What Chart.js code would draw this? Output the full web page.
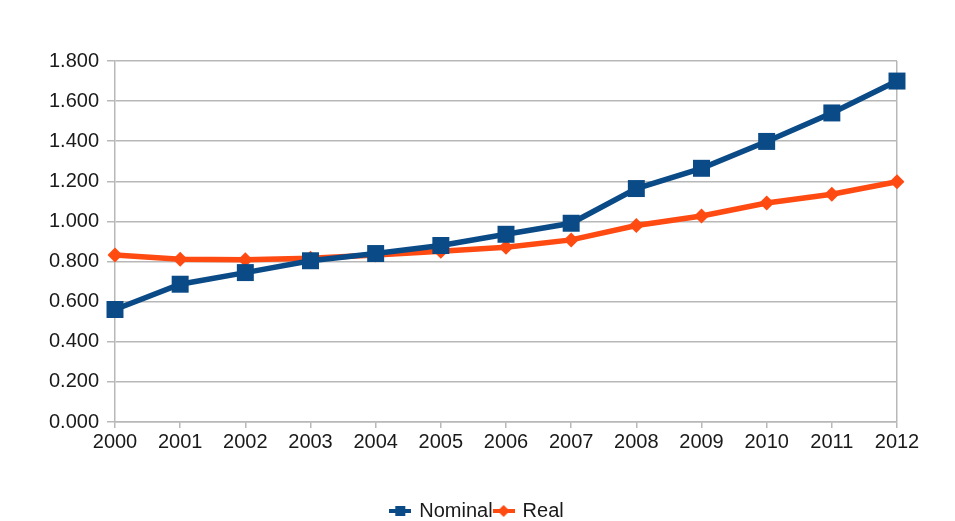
<!DOCTYPE html>
<html>
<head>
<meta charset="utf-8">
<script src="https://cdn.jsdelivr.net/npm/chart.js@4/dist/chart.umd.min.js"></script>
<style>
  html, body { margin: 0; padding: 0; background: #fff; }
  #wrap { width: 955px; height: 521px; }
</style>
</head>
<body>
<div id="wrap"><canvas id="grafico" width="955" height="521"></canvas></div>
<script>
// datos del grafico
var anios = ['2000', '2001', '2002', '2003', '2004', '2005', '2006', '2007', '2008', '2009', '2010', '2011', '2012'];
var nominal = [0.561, 0.687, 0.745, 0.804, 0.840, 0.880, 0.936, 0.991, 1.164, 1.265, 1.399, 1.541, 1.700];
var real = [0.833, 0.812, 0.809, 0.816, 0.833, 0.851, 0.871, 0.908, 0.980, 1.027, 1.092, 1.136, 1.198];
var nombresSeries = ['Nominal', 'Real'];
var ticksY = [0, 0.2, 0.4, 0.6, 0.8, 1.0, 1.2, 1.4, 1.6, 1.8];

var azul = '#0a4a86';
var naranja = '#ff4a12';
var gris = '#b8b8b8';
var fuente = 'Liberation Sans, Arial, sans-serif';

// simbolo de leyenda: linea con marcador
function simbolo(color, forma) {
    var c = document.createElement('canvas');
    c.width = 22; c.height = 14;
    var g = c.getContext('2d');
    g.strokeStyle = color;
    g.fillStyle = color;
    g.lineWidth = 4;
    g.beginPath(); g.moveTo(0, 7); g.lineTo(22, 7); g.stroke();
    g.beginPath();
    if (forma === 'rect') {
        g.rect(6, 2, 10, 10);
    } else {
        g.moveTo(11, 1); g.lineTo(17, 7); g.lineTo(11, 13); g.lineTo(5, 7); g.closePath();
    }
    g.fill();
    return c;
}

var ctx = document.getElementById('grafico').getContext('2d');

var datos = {
    labels: anios,
    datasets: [{
        label: nombresSeries[0],
        data: nominal,
        borderColor: azul,
        backgroundColor: azul,
        borderWidth: 5.5,
        pointStyle: 'rect',
        pointRadius: 12,
        pointBorderWidth: 0,
        tension: 0
    }, {
        label: nombresSeries[1],
        data: real,
        borderColor: naranja,
        backgroundColor: naranja,
        borderWidth: 5.5,
        pointStyle: 'rectRot',
        pointRadius: 7.5,
        pointBorderWidth: 0,
        tension: 0
    }]
};

var imagenes = [simbolo(azul, 'rect'), simbolo(naranja, 'rectRot')];

var configuracion = {
    type: 'line',
    data: datos,
    options: {
        responsive: false,
        animation: false,
        layout: { padding: { top: 61, right: 0, left: 0, bottom: -10 } },
        plugins: {
            tooltip: { enabled: false },
            legend: {
                position: 'bottom',
                labels: {
                    usePointStyle: true,
                    pointStyleWidth: 18,
                    padding: 2,
                    color: '#1a1a1a',
                    font: { family: fuente, size: 20 },
                    generateLabels: function(chart) {
                        return chart.data.datasets.map(function(ds, i) {
                            return {
                                text: ds.label,
                                pointStyle: imagenes[i],
                                fillStyle: ds.borderColor,
                                strokeStyle: ds.borderColor,
                                lineWidth: 0,
                                fontColor: '#1a1a1a',
                                datasetIndex: i
                            };
                        });
                    }
                }
            }
        },
        scales: {
            x: {
                offset: false,
                afterFit: function(scale) { scale.height = 77; },
                border: { color: gris, width: 1.5 },
                grid: {
                    color: function(c) { return c.index === anios.length - 1 ? gris : 'rgba(0,0,0,0)'; },
                    tickColor: gris,
                    lineWidth: 1.5,
                    tickLength: 6
                },
                ticks: {
                    color: '#1a1a1a',
                    padding: 2,
                    maxRotation: 0,
                    font: { family: fuente, size: 20 }
                }
            },
            y: {
                min: 0,
                max: 1.8,
                afterFit: function(scale) { scale.width = 115; },
                afterBuildTicks: function(scale) {
                    scale.ticks = ticksY.map(function(v) { return { value: v }; });
                },
                border: { color: gris, width: 1.5 },
                grid: { color: gris, lineWidth: 1.5, tickLength: 8 },
                ticks: {
                    color: '#1a1a1a',
                    padding: 8,
                    font: { family: fuente, size: 20 },
                    callback: function(v) { return Number(v).toFixed(3); }
                }
            },
            margen: {
                position: 'right',
                min: 0,
                max: 1.8,
                afterFit: function(scale) { scale.width = 58; },
                border: { display: false },
                grid: { drawOnChartArea: false, drawTicks: false },
                ticks: { display: false }
            }
        }
    }
};

var miGrafico = new Chart(ctx, configuracion);
</script>
</body>
</html>
